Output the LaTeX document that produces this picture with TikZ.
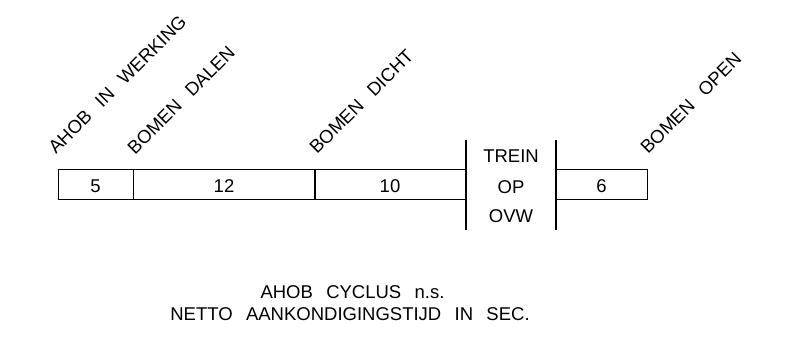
\documentclass[tikz,border=0pt]{standalone}
\usepackage{fontspec}
\setmainfont{Liberation Sans}
\newcommand{\gp}{\hspace{0.72em}}
\tikzset{
  every node/.style={font=\fontsize{18.5}{23}\selectfont, inner sep=0pt},
  cell/.style={draw, line width=1pt, minimum height=30pt, text height=16pt, text depth=0pt},
  lbl/.style={rotate=45, anchor=base west},
  txt/.style={anchor=base},
  rail/.style={line width=1.3pt}
}
\begin{document}
\begin{tikzpicture}[x=1pt,y=-1pt]
\useasboundingbox (0,0) rectangle (811,358);
% cells
\node[cell, minimum width=75pt]  (c1) at (95.5,185) {5};
\node[cell, minimum width=182pt] (c2) at (224,185) {12};
\node[cell, minimum width=151pt] (c3) at (390,185) {10};
\node[cell, minimum width=91pt]  (c4) at (601.5,185) {6};
% vertical lines
\coordinate (v1t) at (466,140); \coordinate (v1b) at (466,230);
\coordinate (v2t) at (556,140); \coordinate (v2b) at (556,230);
\draw[rail] (v1t) -- (v1b);
\draw[rail] (v2t) -- (v2b);
% middle text
\node[txt] (t1) at (511,163) {TREIN};
\node[txt] (t2) at (511,194) {OP};
\node[txt] (t3) at (511,222.5) {OVW};
% rotated labels
\node[lbl] (l1) at (56,155) {AHOB\gp IN\gp WERKING};
\node[lbl] (l2) at (135,155.5) {BOMEN\gp DALEN};
\node[lbl] (l3) at (317,155) {BOMEN\gp DICHT};
\node[lbl] (l4) at (648,155) {BOMEN\gp OPEN};
% bottom captions
\node[txt] (b1) at (352.5,298) {AHOB\gp CYCLUS\gp n.s.};
\node[txt] (b2) at (350,320) {NETTO\gp AANKONDIGINGSTIJD\gp IN\gp SEC.};
\end{tikzpicture}
\end{document}
